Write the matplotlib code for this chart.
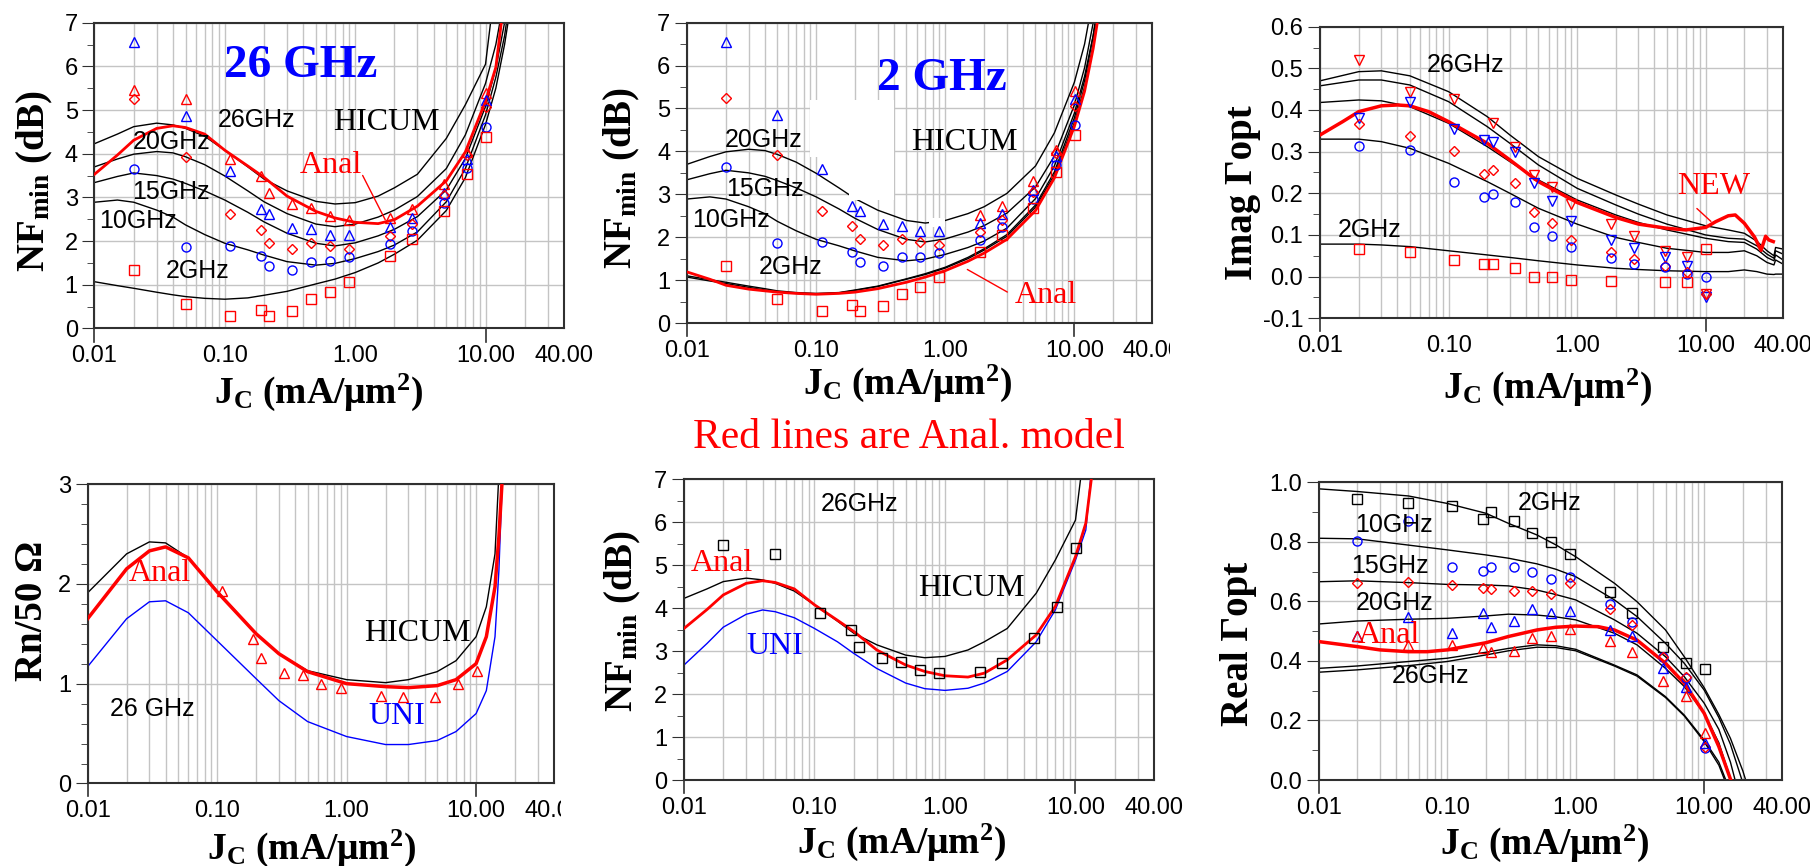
import numpy as np
import matplotlib
matplotlib.use("Agg")
import matplotlib.pyplot as plt
import matplotlib.transforms as mtransforms
from matplotlib.ticker import (FixedLocator, FixedFormatter, LogLocator,
                               NullFormatter, MultipleLocator, FormatStrFormatter)
from matplotlib.patches import Rectangle

plt.rcParams['font.family'] = ['Liberation Sans Narrow', 'Liberation Sans', 'DejaVu Sans']
plt.rcParams['mathtext.fontset'] = 'custom'
plt.rcParams['mathtext.rm'] = 'Liberation Serif:bold'
plt.rcParams['mathtext.it'] = 'Liberation Serif:bold:italic'
plt.rcParams['mathtext.bf'] = 'Liberation Serif:bold'

SERIF = ['Liberation Serif', 'DejaVu Serif']
RED = '#ff0000'
BLUE = '#0000ff'
GRID = '#c4c4c4'
FRAME = '#303030'

# x axis
jc_ticks = [0.01, 0.1, 1.0, 10.0, 40.0]
jc_ticklabels = ['0.01', '0.10', '1.00', '10.00', '40.00']
jc_tickmarks = [0.01, 10.0]

# measured bias points (mA/um^2)
jc_meas = [0.02, 0.05, 0.11, 0.19, 0.22, 0.33, 0.46, 0.64, 0.9, 1.85, 2.75, 4.8, 7.2, 10.1]

# ---- NFmin (dB) ----
nf_meas_26 = [5.46, 5.26, 3.89, 3.50, 3.09, 2.84, 2.75, 2.57, 2.49, 2.52, 2.73, 3.30, 4.03, 5.40]
nf_meas_20 = [6.56, 4.86, 3.60, 2.73, 2.61, 2.31, 2.27, 2.15, 2.15, 2.33, 2.54, 3.09, 3.89, 5.23]
nf_meas_15 = [5.25, 3.92, 2.62, 2.25, 1.96, 1.83, 1.95, 1.89, 1.82, 2.11, 2.40, 3.05, 3.97, 5.06]
nf_meas_10 = [3.64, 1.87, 1.89, 1.66, 1.43, 1.34, 1.53, 1.55, 1.64, 1.93, 2.24, 2.88, 3.68, 4.62]
nf_meas_2 = [1.34, 0.57, 0.29, 0.42, 0.28, 0.40, 0.67, 0.84, 1.07, 1.66, 2.04, 2.69, 3.53, 4.39]

jc_nf = [0.01, 0.015, 0.02, 0.03, 0.04, 0.05, 0.07, 0.1, 0.15, 0.2, 0.3, 0.5, 0.7,
         1.0, 1.5, 2.0, 3.0, 5.0, 7.0, 10.0, 12.0, 14.0, 16.0]
nf_hicum_26 = [4.23, 4.45, 4.62, 4.70, 4.66, 4.58, 4.40, 4.08, 3.70, 3.42, 3.15, 2.91, 2.85,
               2.88, 3.03, 3.22, 3.53, 4.35, 5.12, 6.05, 8.0, 9.5, 11.0]
nf_hicum_20 = [3.70, 3.88, 3.99, 4.05, 4.02, 3.93, 3.75, 3.49, 3.15, 2.90, 2.63, 2.39, 2.33,
               2.39, 2.55, 2.71, 3.02, 3.66, 4.43, 5.61, 6.5, 7.6, 9.0]
nf_hicum_15 = [3.34, 3.48, 3.56, 3.50, 3.42, 3.32, 3.15, 2.94, 2.66, 2.44, 2.18, 1.95, 1.89,
               1.96, 2.12, 2.27, 2.56, 3.17, 3.89, 5.08, 5.95, 7.0, 8.4]
nf_hicum_10 = [2.89, 2.94, 2.89, 2.71, 2.55, 2.37, 2.15, 1.95, 1.80, 1.68, 1.53, 1.45, 1.49,
               1.60, 1.76, 1.91, 2.21, 2.90, 3.66, 4.89, 5.75, 6.7, 7.9]
nf_hicum_2 = [1.07, 0.98, 0.92, 0.83, 0.77, 0.73, 0.69, 0.67, 0.70, 0.76, 0.85, 1.02, 1.13,
              1.28, 1.50, 1.70, 2.02, 2.70, 3.45, 4.67, 5.5, 6.5, 7.6]
nf_hicum_2b = [1.10, 1.01, 0.95, 0.86, 0.80, 0.75, 0.71, 0.69, 0.71, 0.77, 0.86, 1.03, 1.15,
               1.30, 1.53, 1.73, 2.06, 2.75, 3.52, 4.78, 5.65, 6.7, 7.8]
nf_anal_26 = [3.53, 3.97, 4.31, 4.58, 4.64, 4.60, 4.45, 4.08, 3.72, 3.46, 3.03, 2.68, 2.53,
              2.43, 2.40, 2.49, 2.80, 3.38, 4.04, 5.20, 5.98, 7.6, 9.5]
nf_anal_2 = [1.19, 1.02, 0.88, 0.79, 0.75, 0.72, 0.69, 0.67, 0.69, 0.72, 0.80, 0.95, 1.07,
             1.22, 1.44, 1.63, 1.95, 2.62, 3.38, 4.58, 5.4, 6.4, 7.5]
nf_uni_26 = [2.68, 3.18, 3.56, 3.86, 3.96, 3.92, 3.78, 3.53, 3.22, 2.95, 2.60, 2.26, 2.13,
             2.09, 2.14, 2.26, 2.53, 3.22, 3.96, 5.12, 5.82, 8.0, 10.0]

# ---- Imag Gamma_opt ----
im_meas_26 = [0.520, 0.444, 0.426, np.nan, 0.368, 0.312, 0.244, 0.214, 0.174, 0.126, 0.098, 0.062, 0.046, -0.042]
im_meas_20 = [0.380, 0.420, 0.354, 0.328, 0.324, 0.300, 0.224, 0.182, 0.134, 0.088, 0.068, 0.046, 0.026, -0.050]
im_meas_15 = [0.366, 0.338, 0.302, 0.246, 0.256, 0.224, 0.155, 0.128, 0.088, 0.060, 0.042, 0.026, 0.010, -0.042]
im_meas_10 = [0.314, 0.304, 0.226, 0.192, 0.198, 0.178, 0.120, 0.098, 0.072, 0.044, 0.030, 0.022, 0.006, -0.002]
im_meas_2 = [0.066, 0.058, 0.040, 0.030, 0.030, 0.020, -0.002, -0.002, -0.008, -0.010, np.nan, -0.012, -0.012, 0.066]

jc_im = [0.01, 0.02, 0.03, 0.05, 0.1, 0.2, 0.3, 0.5, 1.0, 2.0, 3.0, 5.0, 10.0,
         15.0, 20.0, 25.0, 30.0, 34.0, 35.0, 40.0]
im_hicum_26 = [0.470, 0.492, 0.494, 0.482, 0.444, 0.384, 0.340, 0.288, 0.236, 0.196, 0.174, 0.148,
               0.122, 0.112, 0.104, 0.085, 0.062, 0.050, 0.070, 0.066]
im_hicum_20 = [0.458, 0.472, 0.472, 0.460, 0.420, 0.360, 0.320, 0.268, 0.212, 0.172, 0.150, 0.126,
               0.100, 0.092, 0.090, 0.074, 0.054, 0.044, 0.062, 0.054]
im_hicum_15 = [0.418, 0.424, 0.422, 0.408, 0.368, 0.312, 0.276, 0.232, 0.184, 0.148, 0.130, 0.112,
               0.092, 0.084, 0.082, 0.066, 0.046, 0.038, 0.052, 0.040]
im_hicum_10 = [0.330, 0.330, 0.324, 0.308, 0.272, 0.228, 0.200, 0.164, 0.126, 0.094, 0.082, 0.068,
               0.058, 0.058, 0.062, 0.050, 0.034, 0.028, 0.040, 0.030]
im_hicum_2 = [0.078, 0.078, 0.076, 0.072, 0.062, 0.052, 0.046, 0.038, 0.028, 0.020, 0.017, 0.014,
              0.012, 0.012, 0.016, 0.012, 0.006, 0.005, 0.006, 0.006]
jc_im_new = [0.01, 0.015, 0.02, 0.03, 0.04, 0.05, 0.07, 0.1, 0.2, 0.3, 0.5, 1.0, 2.0, 3.0, 5.0,
             7.0, 10.0, 12.0, 15.0, 17.0, 20.0, 24.0, 27.0, 29.3, 31.0, 33.6]
im_new = [0.340, 0.372, 0.396, 0.410, 0.412, 0.410, 0.396, 0.372, 0.320, 0.280, 0.228, 0.178,
          0.142, 0.126, 0.116, 0.112, 0.118, 0.132, 0.146, 0.148, 0.128, 0.095, 0.063, 0.097,
          0.088, 0.084]

# ---- Rn/50 at 26 GHz ----
rn_meas = [1.93, 1.45, 1.26, 1.11, 1.09, 1.00, 0.96, 0.88, 0.87, 0.87, 1.00, 1.13]
jc_rn = [0.01, 0.02, 0.03, 0.04, 0.06, 0.1, 0.2, 0.3, 0.5, 1.0, 2.0, 3.0, 5.0, 7.0, 10.0,
         12.0, 14.0, 15.0, 16.0]
rn_hicum = [1.91, 2.30, 2.42, 2.41, 2.26, 1.93, 1.50, 1.30, 1.13, 1.04, 1.01, 1.04, 1.12, 1.23,
            1.47, 1.77, 2.30, 3.10, 4.00]
rn_anal = [1.65, 2.15, 2.33, 2.37, 2.26, 1.92, 1.50, 1.30, 1.12, 1.00, 0.97, 0.96, 0.98, 1.04,
           1.20, 1.47, 1.97, 2.47, 3.10]
rn_uni = [1.17, 1.65, 1.82, 1.83, 1.71, 1.43, 1.05, 0.83, 0.62, 0.47, 0.39, 0.39, 0.43, 0.52,
          0.70, 0.93, 1.47, 2.13, 3.10]

# ---- Real Gamma_opt ----
re_meas_2 = [0.943, 0.932, 0.920, 0.876, 0.901, 0.871, 0.829, 0.801, 0.758, 0.633, 0.562, 0.446, 0.394, 0.372]
re_meas_10 = [0.804, 0.870, 0.717, 0.702, 0.717, 0.714, 0.700, 0.674, 0.683, 0.591, 0.532, 0.414, 0.342, 0.106]
re_meas_15 = [0.661, 0.664, 0.655, 0.644, 0.641, 0.636, 0.635, 0.624, 0.661, 0.574, 0.521, 0.412, 0.347, 0.112]
re_meas_20 = [0.482, 0.549, 0.493, 0.562, 0.515, 0.535, 0.574, 0.562, 0.569, 0.504, 0.484, 0.375, 0.314, 0.123]
re_meas_26 = [0.482, 0.454, 0.454, 0.445, 0.429, 0.433, 0.478, 0.482, 0.506, 0.467, 0.431, 0.334, 0.282, 0.159]

jc_re = [0.01, 0.02, 0.05, 0.1, 0.2, 0.3, 0.5, 0.7, 1.0, 2.0, 3.0, 5.0, 7.0, 10.0, 13.0, 16.0, 20.0, 24.0]
re_hicum_2 = [0.978, 0.969, 0.954, 0.929, 0.896, 0.862, 0.823, 0.790, 0.750, 0.661, 0.599, 0.504,
              0.414, 0.310, 0.220, 0.140, 0.030, -0.080]
re_hicum_10 = [0.812, 0.810, 0.789, 0.773, 0.756, 0.745, 0.726, 0.708, 0.683, 0.605, 0.549, 0.459,
               0.392, 0.302, 0.210, 0.120, -0.010, -0.120]
re_hicum_15 = [0.666, 0.669, 0.663, 0.657, 0.655, 0.652, 0.638, 0.623, 0.605, 0.538, 0.493, 0.414,
               0.347, 0.258, 0.170, 0.060, -0.100, -0.200]
re_hicum_20 = [0.524, 0.534, 0.540, 0.543, 0.551, 0.557, 0.554, 0.548, 0.538, 0.493, 0.454, 0.375,
               0.314, 0.224, 0.125, 0.005, -0.150, -0.300]
re_hicum_26a = [0.375, 0.383, 0.398, 0.409, 0.429, 0.442, 0.454, 0.451, 0.439, 0.386, 0.353, 0.280,
                0.218, 0.134, 0.060, -0.040, -0.200, -0.350]
re_hicum_26b = [0.362, 0.370, 0.384, 0.398, 0.420, 0.434, 0.446, 0.445, 0.434, 0.383, 0.349, 0.277,
                0.215, 0.129, 0.050, -0.050, -0.200, -0.350]
jc_re_anal = [0.01, 0.02, 0.03, 0.05, 0.07, 0.1, 0.2, 0.3, 0.5, 0.7, 1.0, 1.5, 2.0, 3.0, 5.0,
              7.0, 10.0, 13.0, 16.1]
re_anal = [0.465, 0.448, 0.437, 0.431, 0.431, 0.437, 0.461, 0.482, 0.504, 0.513, 0.517, 0.515,
           0.504, 0.470, 0.392, 0.325, 0.224, 0.112, 0.0]


def setup(ax, ylo, yhi, major, minor, fmt=None):
    ax.set_xscale('log')
    ax.set_xlim(0.01, 40)
    ax.set_ylim(ylo, yhi)
    ax.xaxis.set_major_locator(FixedLocator(jc_ticks))
    ax.xaxis.set_major_formatter(FixedFormatter(jc_ticklabels))
    ax.xaxis.set_minor_locator(LogLocator(base=10, subs=np.arange(2, 10), numticks=30))
    ax.xaxis.set_minor_formatter(NullFormatter())
    ax.yaxis.set_major_locator(MultipleLocator(major))
    ax.yaxis.set_minor_locator(MultipleLocator(minor))
    if fmt:
        ax.yaxis.set_major_formatter(FormatStrFormatter(fmt))
    ax.grid(True, which='both', axis='x', color=GRID, lw=1.0)
    ax.grid(True, which='major', axis='y', color=GRID, lw=1.0)
    ax.set_axisbelow(True)
    ax.tick_params(axis='x', which='both', length=0, pad=12, labelsize=17)
    ax.tick_params(axis='y', which='major', length=9, direction='out', color=FRAME,
                   labelsize=17, pad=3, right=False)
    ax.tick_params(axis='y', which='minor', length=5, direction='out', color=FRAME, right=False)
    for s in ax.spines.values():
        s.set_color(FRAME)
        s.set_linewidth(1.5)
    # the two short marks hanging under the x axis
    trans = mtransforms.blended_transform_factory(ax.transData, ax.transAxes)
    for xt in jc_tickmarks:
        ax.plot([xt, xt], [0, -0.043], transform=trans, color=FRAME, lw=1.2, clip_on=False)


def labels(ax, ylab, ypos, xpos):
    ax.set_ylabel(ylab, fontsize=28, fontweight='bold', family=SERIF)
    ax.yaxis.label.set(va='center', ha='center', rotation_mode='default')
    ax.yaxis.set_label_coords(*ypos)
    ax.set_xlabel(r'J$_{\mathrm{C}}$ (mA/μm$^{\mathrm{2}}$)', fontsize=27,
                  fontweight='bold', family=SERIF)
    ax.xaxis.label.set(va='center', ha='center')
    ax.xaxis.set_label_coords(*xpos)


def markers(ax, x, y, mk, col, ms=6.5):
    ax.plot(x, y, ls='none', marker=mk, mfc='none', mec=col, mew=1.0, ms=ms, zorder=4)


def note(ax, x, y, s, **kw):
    ax.text(x, y, s, zorder=5, **kw)


SANS_FS = 18
SERIF_FS = 23

fig = plt.figure(figsize=(18.1, 8.66), dpi=100)

NF_LAB = r'NF$_{\mathrm{min}}$ (dB)'

# ---------- NFmin, all frequencies, 26 GHz model ----------
ax1 = fig.add_axes([0.0522, 0.6207, 0.2594, 0.3531])
setup(ax1, 0, 7, 1, 0.5)
for yv in [nf_hicum_26, nf_hicum_20, nf_hicum_15, nf_hicum_10, nf_hicum_2]:
    ax1.plot(jc_nf, yv, color='black', lw=1.0, zorder=2)
ax1.plot(jc_nf, nf_anal_26, color=RED, lw=2.0, zorder=3)
markers(ax1, jc_meas, nf_meas_26, '^', RED)
markers(ax1, jc_meas, nf_meas_20, '^', BLUE)
markers(ax1, jc_meas, nf_meas_15, 'D', RED, 5)
markers(ax1, jc_meas, nf_meas_10, 'o', BLUE)
markers(ax1, jc_meas, nf_meas_2, 's', RED)
note(ax1, 0.382, 6.01, '26 GHz', color=BLUE, fontsize=34, fontweight='bold',
     family=SERIF, ha='center', va='center')
note(ax1, 0.0889, 4.77, '26GHz', fontsize=SANS_FS, va='center')
note(ax1, 0.0195, 4.28, '20GHz', fontsize=SANS_FS, va='center')
note(ax1, 0.0195, 3.13, '15GHz', fontsize=SANS_FS, va='center')
note(ax1, 0.0108, 2.45, '10GHz', fontsize=SANS_FS, va='center')
note(ax1, 0.0351, 1.32, '2GHz', fontsize=SANS_FS, va='center')
note(ax1, 0.673, 4.71, 'HICUM', fontsize=SERIF_FS, family=SERIF, va='center')
note(ax1, 0.374, 3.74, 'Anal', fontsize=SERIF_FS, family=SERIF, color=RED, va='center')
ax1.annotate('', xy=(1.74, 2.43), xytext=(1.116, 3.56),
             arrowprops=dict(arrowstyle='-', color=RED, lw=1.0), zorder=5)
labels(ax1, NF_LAB, (-0.127, 0.483), (0.478, -0.208))

# ---------- NFmin, 2 GHz model ----------
ax2 = fig.add_axes([0.3796, 0.6270, 0.2569, 0.3468])
setup(ax2, 0, 7, 1, 0.5)
for yv in [nf_hicum_20, nf_hicum_15, nf_hicum_10, nf_hicum_2, nf_hicum_2b]:
    ax2.plot(jc_nf, yv, color='black', lw=1.0, zorder=2)
ax2.plot(jc_nf, nf_anal_2, color=RED, lw=2.0, zorder=3)
# blanked-out areas of the original plot
for x0, x1, y0, y1 in [(0.09, 0.40, 3.87, 5.20), (0.18, 0.40, 2.86, 3.87), (0.75, 0.987, 2.23, 2.44)]:
    ax2.add_patch(Rectangle((x0, y0), x1 - x0, y1 - y0, color='white', zorder=3.5, lw=0))
markers(ax2, jc_meas[9:], nf_meas_26[9:], '^', RED)
markers(ax2, jc_meas, nf_meas_20, '^', BLUE)
markers(ax2, jc_meas, nf_meas_15, 'D', RED, 5)
markers(ax2, jc_meas, nf_meas_10, 'o', BLUE)
markers(ax2, jc_meas, nf_meas_2, 's', RED)
note(ax2, 0.946, 5.69, '2 GHz', color=BLUE, fontsize=34, fontweight='bold',
     family=SERIF, ha='center', va='center')
note(ax2, 0.0197, 4.26, '20GHz', fontsize=SANS_FS, va='center')
note(ax2, 0.0201, 3.13, '15GHz', fontsize=SANS_FS, va='center')
note(ax2, 0.0109, 2.41, '10GHz', fontsize=SANS_FS, va='center')
note(ax2, 0.0356, 1.31, '2GHz', fontsize=SANS_FS, va='center')
note(ax2, 0.546, 4.20, 'HICUM', fontsize=SERIF_FS, family=SERIF, va='center')
note(ax2, 3.44, 0.65, 'Anal', fontsize=SERIF_FS, family=SERIF, color=RED, va='center')
ax2.annotate('', xy=(1.42, 1.28), xytext=(3.16, 0.69),
             arrowprops=dict(arrowstyle='-', color=RED, lw=1.0), zorder=5)
labels(ax2, NF_LAB, (-0.140, 0.484), (0.474, -0.201))

# ---------- Imag Gamma_opt ----------
ax3 = fig.add_axes([0.7293, 0.6325, 0.2558, 0.3367])
setup(ax3, -0.1, 0.6, 0.1, 0.05, '%.1f')
for yv in [im_hicum_26, im_hicum_20, im_hicum_15, im_hicum_10, im_hicum_2]:
    ax3.plot(jc_im, yv, color='black', lw=1.0, zorder=2)
ax3.plot(jc_im_new, im_new, color=RED, lw=2.5, zorder=3)
markers(ax3, jc_meas, im_meas_26, 'v', RED)
markers(ax3, jc_meas, im_meas_20, 'v', BLUE)
markers(ax3, jc_meas, im_meas_15, 'D', RED, 5)
markers(ax3, jc_meas, im_meas_10, 'o', BLUE)
markers(ax3, jc_meas, im_meas_2, 's', RED)
note(ax3, 0.068, 0.509, '26GHz', fontsize=SANS_FS, va='center')
note(ax3, 0.0138, 0.111, '2GHz', fontsize=SANS_FS, va='center')
note(ax3, 6.0, 0.216, 'NEW', fontsize=SERIF_FS, family=SERIF, color=RED, va='center')
ax3.annotate('', xy=(11.4, 0.128), xytext=(8.24, 0.168),
             arrowprops=dict(arrowstyle='-', color=RED, lw=1.0), zorder=5)
labels(ax3, 'Imag Γopt', (-0.168, 0.43), (0.491, -0.236))

# ---------- Rn/50 ----------
ax4 = fig.add_axes([0.0484, 0.0953, 0.2577, 0.3458])
setup(ax4, 0, 3, 1, 0.2)
ax4.plot(jc_rn, rn_hicum, color='black', lw=1.0, zorder=2)
ax4.plot(jc_rn, rn_uni, color=BLUE, lw=1.0, zorder=2)
ax4.plot(jc_rn, rn_anal, color=RED, lw=2.5, zorder=3)
markers(ax4, jc_meas[2:], rn_meas, '^', RED)
note(ax4, 0.0208, 2.10, 'Anal', fontsize=SERIF_FS, family=SERIF, color=RED, va='center')
note(ax4, 1.37, 1.50, 'HICUM', fontsize=SERIF_FS, family=SERIF, va='center')
note(ax4, 1.48, 0.67, 'UNI', fontsize=SERIF_FS, family=SERIF, color=BLUE, va='center')
note(ax4, 0.015, 0.75, '26 GHz', fontsize=SANS_FS, va='center')
labels(ax4, 'Rn/50 Ω', (-0.119, 0.575), (0.481, -0.216))

# ---------- NFmin at 26 GHz, three models ----------
ax5 = fig.add_axes([0.3779, 0.0990, 0.2597, 0.3476])
setup(ax5, 0, 7, 1, 0.5)
ax5.plot(jc_nf, nf_hicum_26, color='black', lw=1.0, zorder=2)
ax5.plot(jc_nf, nf_uni_26, color=BLUE, lw=1.0, zorder=2)
ax5.plot(jc_nf, nf_anal_26, color=RED, lw=2.0, zorder=3)
markers(ax5, jc_meas, nf_meas_26, 's', 'black')
note(ax5, 0.111, 6.43, '26GHz', fontsize=SANS_FS, va='center')
note(ax5, 0.01134, 5.04, 'Anal', fontsize=SERIF_FS, family=SERIF, color=RED, va='center')
note(ax5, 0.62, 4.46, 'HICUM', fontsize=SERIF_FS, family=SERIF, va='center')
note(ax5, 0.0303, 3.12, 'UNI', fontsize=SERIF_FS, family=SERIF, color=BLUE, va='center')
labels(ax5, NF_LAB, (-0.129, 0.528), (0.463, -0.205))

# ---------- Real Gamma_opt ----------
ax6 = fig.add_axes([0.7285, 0.0993, 0.2558, 0.3438])
setup(ax6, 0, 1.0, 0.2, 0.1, '%.1f')
for yv in [re_hicum_2, re_hicum_10, re_hicum_15, re_hicum_20, re_hicum_26a, re_hicum_26b]:
    ax6.plot(jc_re, yv, color='black', lw=1.0, zorder=2)
ax6.plot(jc_re_anal, re_anal, color=RED, lw=2.5, zorder=3)
markers(ax6, jc_meas, re_meas_2, 's', 'black')
markers(ax6, jc_meas, re_meas_10, 'o', BLUE)
markers(ax6, jc_meas, re_meas_15, 'D', RED, 5)
markers(ax6, jc_meas, re_meas_20, '^', BLUE)
markers(ax6, jc_meas, re_meas_26, '^', RED)
note(ax6, 0.352, 0.929, '2GHz', fontsize=SANS_FS, va='center')
note(ax6, 0.0191, 0.857, '10GHz', fontsize=SANS_FS, va='center')
note(ax6, 0.018, 0.720, '15GHz', fontsize=SANS_FS, va='center')
note(ax6, 0.0195, 0.596, '20GHz', fontsize=SANS_FS, va='center')
note(ax6, 0.0203, 0.487, 'Anal', fontsize=SERIF_FS, family=SERIF, color=RED, va='center')
note(ax6, 0.0372, 0.351, '26GHz', fontsize=SANS_FS, va='center')
labels(ax6, 'Real Γopt', (-0.172, 0.457), (0.488, -0.212))

fig.text(0.502, 0.4948, 'Red lines are Anal. model', color=RED, fontsize=30,
         family=SERIF, ha='center', va='center')

# trimmed tick labels at the right of two panels
fig.add_artist(Rectangle((1170 / 1810, 1 - 380 / 866), 50 / 1810, 48 / 866,
                         transform=fig.transFigure, color='white', zorder=10, lw=0))
fig.add_artist(Rectangle((561 / 1810, 1 - 840 / 866), 40 / 1810, 48 / 866,
                         transform=fig.transFigure, color='white', zorder=10, lw=0))

fig.savefig('out.png', dpi=100, facecolor='white')
